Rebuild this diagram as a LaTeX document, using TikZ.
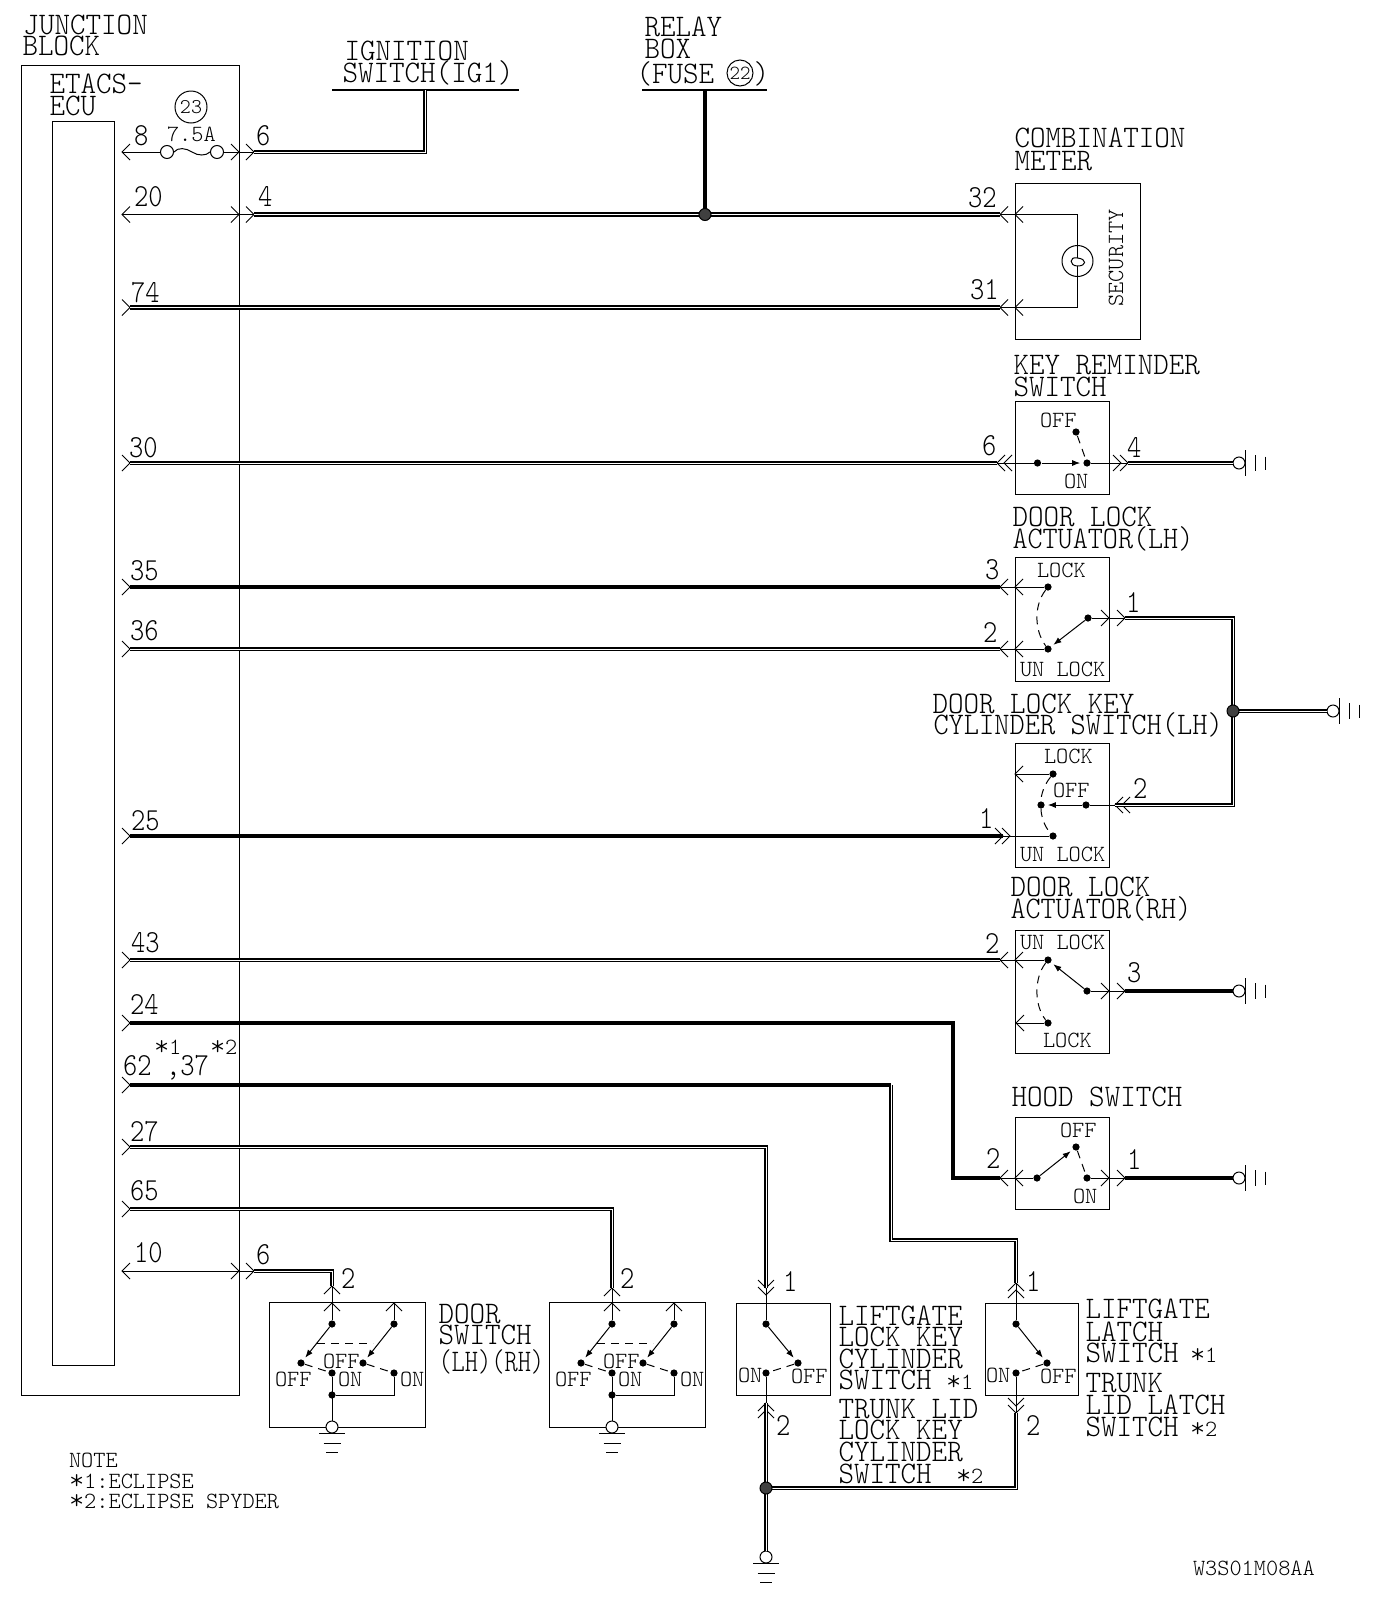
\documentclass[tikz,border=0pt]{standalone}
\usepackage{graphicx}
\usetikzlibrary{fit,arrows.meta}
\newcommand\tfont{\fontfamily{lmtt}\fontseries{l}\fontshape{n}}
\newcommand\lb[5][1]{\node[txt,xshift=-0.75pt] (#2) at (#3,#4) {\tfont\fontsize{14.8}{15}\selectfont\scalebox{#1}[1.06]{#5}};}
\newcommand\nm[4]{\node[txt] (#1) at (#2,#3) {\tfont\fontsize{13.6}{15}\selectfont\scalebox{1}[1.18]{#4}};}
\newcommand\sm[4]{\node[txt] (#1) at (#2,#3) {\tfont\fontsize{11.6}{13}\selectfont #4};}
\newcommand\stt{\raisebox{-0.06em}{\scalebox{1.25}{*}}}
\newcommand\chev[4]{\coordinate (#1) at (#2,#3); \draw[fine,shift={(#2,#3)},rotate=#4] (-8,-8) -- (0,0) -- (-8,8);}
\newcommand\sd[3]{\node[swdot] (#1) at (#2,#3) {};}
\newcommand\bx[5]{\node[swbox,fit={(#2,#3)(#4,#5)}] (#1) {};}
\newcommand\gndR[3]{\node[gcirc] (#1) at (#2,#3) {};
  \draw[fine] ([shift={(6,-13)}]#1.center) -- ([shift={(6,13)}]#1.center);
  \draw[fine] ([shift={(16,-8)}]#1.center) -- ([shift={(16,8)}]#1.center);
  \draw[fine] ([shift={(26,-6.5)}]#1.center) -- ([shift={(26,6.5)}]#1.center);}
\newcommand\gndD[3]{\node[gcirc] (#1) at (#2,#3) {};
  \draw[fine] ([shift={(-13,6)}]#1.center) -- ([shift={(13,6)}]#1.center);
  \draw[fine] ([shift={(-8.5,16)}]#1.center) -- ([shift={(8.5,16)}]#1.center);
  \draw[fine] ([shift={(-6,25)}]#1.center) -- ([shift={(6,25)}]#1.center);}
\tikzset{
  fine/.style={line width=0.5pt},
  hbar/.style={line width=1pt},
  wsolid/.style={line width=2pt,line join=miter},
  wdbl/.style={line width=1pt,double=white,double distance=0.45pt,line join=miter},
  dashsw/.style={line width=0.5pt,dash pattern=on 4pt off 3pt},
  swdot/.style={circle,fill=black,inner sep=0pt,minimum size=3.6pt},
  swbox/.style={draw,line width=0.5pt,inner sep=0pt,outer sep=0pt},
  gcirc/.style={circle,draw,fill=white,line width=0.5pt,inner sep=0pt,minimum size=6pt},
  jct/.style={circle,draw,fill=black!75,line width=0.5pt,inner sep=0pt,minimum size=6pt},
  txt/.style={anchor=base west,inner sep=0pt,outer sep=0pt},
  ptr/.style={line width=0.5pt,-{Latex[length=4pt,width=3pt]},shorten >=1.4pt},
}
\begin{document}
\begin{tikzpicture}[x=0.5pt,y=-0.5pt]
\useasboundingbox (0,0) rectangle (1392,1612);
\fill[white] (0,0) rectangle (1392,1612);
% junction block and ECU
\bx{jb}{21}{65.5}{239}{1395}
\bx{ecu}{52}{121}{114}{1365}
% supply bars
\coordinate (ignb) at (425,90);
\coordinate (relb) at (705,90);
\draw[hbar] (332,90) coordinate (ign1) -- (519,90) coordinate (ign2);
\draw[hbar] (642,90) coordinate (rel1) -- (767,90) coordinate (rel2);
% fuse line
\chev{t8}{122}{152}{180}
\chev{t8m}{239}{152}{0}
\chev{t6a}{254}{152}{0}
\node[gcirc,minimum size=6.5pt] (f1) at (167,152) {};
\node[gcirc,minimum size=6.5pt] (f2) at (217,152) {};
\draw[fine] (t8) -- (f1.west);
\draw[fine] (f1.east) .. controls (178,147) and (186,148) .. (192,152) .. controls (198,156) and (206,156) .. (f2.west);
\draw[fine] (f2.east) -- (t6a);
\draw[wdbl] (t6a) -| (ignb);
\node[circle,draw,line width=0.5pt,minimum size=16pt,inner sep=0pt,font=\tfont\fontsize{10.5}{12}\selectfont] (c23) at (191,107) {23};
% line 20 / 4 / 32
\chev{t20}{122}{214.5}{180}
\chev{t20m}{239}{214.5}{0}
\chev{t4}{254}{214.5}{0}
\draw[fine] (t20) -- (t4);
\chev{t32}{1000}{214.5}{180}
\chev{t32b}{1015}{214.5}{180}
\coordinate (j1c) at (705,214.5);
\draw[wdbl] (t4) -- (t32);
\draw[wsolid] (relb) -- (j1c);
\node[jct] (j1) at (j1c) {};
% combination meter
\bx{cm}{1015}{183}{1140.5}{339}
\coordinate (fil1) at (1077.5,258);
\coordinate (fil2) at (1077.5,266);
\chev{t74}{130}{307.5}{0}
\chev{t31}{1000}{307.5}{180}
\chev{t31b}{1015}{307.5}{180}
\draw[wdbl] (t74) -- (t31);
\draw[fine] (t32) -| (fil1);
\draw[fine] (t31) -| (fil2);
\node[circle,draw,line width=0.5pt,minimum size=15.5pt,inner sep=0pt] (lamp) at (1077.5,261) {};
\draw[fine] (fil1) .. controls (1069,256) and (1069,266) .. (fil2) .. controls (1087,266) and (1087,259) .. (fil1);
\node[anchor=base west,inner sep=0pt,rotate=90] (sec) at (1123,307) {\tfont\fontsize{11.6}{13}\selectfont SECURITY};
% key reminder switch
\bx{kr}{1015}{401.6}{1109}{494}
\chev{t30}{130}{463}{0}
\chev{k6a}{997}{463}{180}
\chev{k6b}{1004}{463}{180}
\draw[wdbl] (t30) -- (k6a);
\sd{kr1}{1037.5}{463}
\sd{kr2}{1087}{463}
\sd{kr3}{1076}{432}
\draw[fine] (k6a) -- (kr1);
\draw[ptr] (kr1) -- (kr2);
\draw[dashsw] (kr3) -- (kr2);
\chev{k4a}{1121}{463}{0}
\chev{k4b}{1128}{463}{0}
\draw[fine] (kr2) -- (k4b);
\gndR{g1}{1239}{463}
\draw[wdbl] (k4b) -- (g1.west);
% door lock actuator LH
\bx{dl}{1015}{557}{1109}{681}
\chev{t35}{130}{587}{0}
\chev{d3a}{1000}{587}{180}
\chev{d3b}{1015}{587}{180}
\draw[wsolid] (t35) -- (d3a);
\chev{t36}{130}{649}{0}
\chev{d2a}{1000}{649}{180}
\chev{d2b}{1015}{649}{180}
\draw[wdbl] (t36) -- (d2a);
\sd{dl1}{1048}{587}
\sd{dl2}{1048}{649}
\sd{dl3}{1088}{618}
\draw[fine] (d3a) -- (dl1);
\draw[fine] (d2a) -- (dl2);
\draw[ptr] (dl3) -- (dl2);
\draw[dashsw] (dl1) .. controls (1034,605) and (1034,630) .. (dl2);
\chev{d1a}{1109}{618}{0}
\chev{d1b}{1125}{618}{0}
\draw[fine] (dl3) -- (d1b);
% door lock key cylinder
\bx{kc}{1015}{743}{1109}{867}
\chev{kcl}{1015}{774}{180}
\sd{kc1}{1053}{774}
\sd{kc2}{1041}{805}
\sd{kc3}{1086}{805}
\sd{kc4}{1053}{836}
\draw[fine] (kcl) -- (kc1);
\draw[ptr] (kc3) -- (kc2);
\draw[dashsw] (kc1) .. controls (1044,785) and (1041,795) .. (kc2) .. controls (1041,815) and (1044,826) .. (kc4);
\chev{kc2a}{1115}{805}{180}
\chev{kc2b}{1122}{805}{180}
\draw[fine] (kc3) -- (kc2a);
\chev{t25}{130}{836}{0}
\chev{kc1a}{1003}{836}{0}
\chev{kc1b}{1010}{836}{0}
\draw[wsolid] (t25) -- (kc1a);
\draw[fine] (kc1a) -- (kc4);
% common earth
\coordinate (j2c) at (1233,711);
\coordinate (cn1) at (1233,618);
\draw[wdbl] (d1b) -| (j2c);
\draw[wdbl] (kc2a) -| (j2c);
\gndR{g2}{1333}{711}
\draw[wdbl] (j2c) -- (g2.west);
\node[jct] (j2) at (j2c) {};
% door lock actuator RH
\bx{dr}{1015}{930}{1109}{1053}
\chev{t43}{130}{960}{0}
\chev{r2a}{1000}{960}{180}
\chev{r2b}{1015}{960}{180}
\draw[wdbl] (t43) -- (r2a);
\sd{dr1}{1048}{960}
\sd{dr2}{1087}{991}
\sd{dr3}{1048}{1023}
\draw[fine] (r2a) -- (dr1);
\draw[ptr] (dr2) -- (dr1);
\draw[dashsw] (dr1) .. controls (1034,978) and (1034,1005) .. (dr3);
\chev{drl}{1016}{1023}{180}
\draw[fine] (drl) -- (dr3);
\chev{r3a}{1109}{991}{0}
\chev{r3b}{1125}{991}{0}
\draw[fine] (dr2) -- (r3b);
\gndR{g3}{1239}{991}
\draw[wsolid] (r3b) -- (g3.west);
% hood switch
\bx{hs}{1015}{1117}{1109}{1209}
\chev{t24}{130}{1023}{0}
\chev{h2a}{1000}{1178}{180}
\chev{h2b}{1015}{1178}{180}
\coordinate (hc) at (953,1023);
\draw[wsolid] (t24) -- (hc) |- (h2a);
\sd{hs1}{1037}{1178}
\sd{hs2}{1076}{1147}
\sd{hs3}{1087}{1178}
\draw[fine] (h2a) -- (hs1);
\draw[ptr] (hs1) -- (hs2);
\draw[dashsw] (hs2) -- (hs3);
\chev{h1a}{1109}{1178}{0}
\chev{h1b}{1125}{1178}{0}
\draw[fine] (hs3) -- (h1b);
\gndR{g4}{1239}{1178}
\draw[wsolid] (h1b) -- (g4.west);
% 62/37 -> latch switch
\bx{ls}{985}{1303}{1078}{1395}
\chev{t62}{130}{1085}{0}
\coordinate (c62) at (891,1085);
\coordinate (c62b) at (891,1240);
\chev{l1a}{1016}{1283}{90}
\chev{l1b}{1016}{1290}{90}
\draw[wsolid] (t62) -- (c62);
\draw[wdbl] (c62) -- (c62b) -| (l1a);
\sd{ls1}{1016}{1324}
\sd{ls2}{1047}{1363}
\sd{ls3}{1016}{1373}
\draw[fine] (l1a) -- (ls1);
\draw[ptr] (ls1) -- (ls2);
\draw[dashsw] (ls2) -- (ls3);
\chev{l2a}{1016}{1406}{-90}
\chev{l2b}{1016}{1413}{-90}
\draw[fine] (ls3) -- (l2b);
% 27 -> lock key cylinder
\bx{lk}{736}{1303}{830}{1395}
\chev{t27}{130}{1147}{0}
\chev{c1a}{766}{1288}{-90}
\chev{c1b}{766}{1295}{-90}
\draw[wdbl] (t27) -| (c1a);
\sd{lk1}{766}{1324}
\sd{lk2}{798}{1363}
\sd{lk3}{766}{1373}
\draw[fine] (c1a) -- (lk1);
\draw[ptr] (lk1) -- (lk2);
\draw[dashsw] (lk2) -- (lk3);
\chev{c2a}{766}{1403}{90}
\chev{c2b}{766}{1410}{90}
\draw[fine] (lk3) -- (c2a);
\coordinate (j3c) at (766,1488);
\gndD{g5}{766}{1557}
\draw[wdbl] (c2a) -- (g5.north);
\draw[wdbl] (j3c) -| (l2b);
\node[jct] (j3) at (j3c) {};
% door switches
\bx{ds1}{269}{1302}{425}{1427}
\bx{ds2}{549}{1302}{705}{1427}
\chev{t10}{122}{1271}{180}
\chev{t10m}{239}{1271}{0}
\chev{t6d}{254}{1271}{0}
\draw[fine] (t10) -- (t6d);
\chev{ds1t}{332}{1286}{90}
\chev{ds1u}{332}{1303}{90}
\draw[wdbl] (t6d) -| (ds1t);
\chev{t65}{130}{1209}{0}
\chev{ds2t}{612}{1288}{90}
\chev{ds2u}{612}{1303}{90}
\draw[wdbl] (t65) -| (ds2t);
\sd{a1}{332}{1324}
\sd{a2}{394}{1324}
\sd{a3}{301}{1363}
\sd{a4}{363}{1363}
\sd{a5}{332}{1373}
\sd{a6}{394}{1373}
\sd{a7}{332}{1395}
\chev{ds1v}{394}{1303}{90}
\draw[fine] (ds1t) -- (a1);
\draw[fine] (ds1v) -- (a2);
\draw[ptr] (a1) -- (a3);
\draw[ptr] (a2) -- (a4);
\draw[dashsw] (317,1343) coordinate (a8) -- (373,1343) coordinate (a9);
\draw[dashsw] (a3) -- (a5);
\draw[dashsw] (a4) -- (a6);
\gndD{g6}{332}{1427}
\draw[fine] (a5) -- (g6.north);
\draw[fine] (a7) -| (a6);
\sd{b1}{612}{1324}
\sd{b2}{674}{1324}
\sd{b3}{581}{1363}
\sd{b4}{643}{1363}
\sd{b5}{612}{1373}
\sd{b6}{674}{1373}
\sd{b7}{612}{1395}
\chev{ds2v}{674}{1303}{90}
\draw[fine] (ds2t) -- (b1);
\draw[fine] (ds2v) -- (b2);
\draw[ptr] (b1) -- (b3);
\draw[ptr] (b2) -- (b4);
\draw[dashsw] (597,1343) coordinate (b8) -- (653,1343) coordinate (b9);
\draw[dashsw] (b3) -- (b5);
\draw[dashsw] (b4) -- (b6);
\gndD{g7}{612}{1427}
\draw[fine] (b5) -- (g7.north);
\draw[fine] (b7) -| (b6);
% big labels
\lb{tJ}{25}{34}{JUNCTION}
\lb{tB}{24}{55}{BLOCK}
\lb{tE}{51}{93}{ETACS-}
\lb{tEc}{51}{115}{ECU}
\lb{tI}{346}{60}{IGNITION}
\lb{tIs}{344}{82}{SWITCH(IG1)}
\lb{tR}{646}{36}{RELAY}
\lb{tRb}{646}{58}{BOX}
\lb{tRf}{638}{83}{(FUSE}
\lb{tRp}{755}{83}{)}
\node[circle,draw,line width=0.5pt,minimum size=13pt,inner sep=0pt,font=\tfont\fontsize{10}{12}\selectfont] (c22) at (740,73) {22};
\lb{tC}{1016}{147}{COMBINATION}
\lb{tCm}{1016}{170}{METER}
\lb{tK}{1015}{374}{KEY REMINDER}
\lb{tKs}{1015}{396}{SWITCH}
\lb{tD1}{1014}{526}{DOOR LOCK}
\lb[0.97]{tD2}{1014}{548}{ACTUATOR(LH)}
\lb{tDk1}{934}{713}{DOOR LOCK KEY}
\lb[0.98]{tDk2}{935}{734}{CYLINDER SWITCH(LH)}
\lb{tDr1}{1012}{896}{DOOR LOCK}
\lb[0.97]{tDr2}{1012}{918}{ACTUATOR(RH)}
\lb{tH}{1013}{1106}{HOOD SWITCH}
\lb{tS1}{440}{1323}{DOOR}
\lb{tS2}{440}{1344}{SWITCH}
\lb[0.85]{tS3}{440}{1371}{(LH)(RH)}
\lb{tL1}{840}{1325}{LIFTGATE}
\lb{tL2}{840}{1346}{LOCK KEY}
\lb{tL3}{840}{1368}{CYLINDER}
\lb{tL4}{840}{1389}{SWITCH}
\lb{tL5}{840}{1418}{TRUNK LID}
\lb{tL6}{840}{1439}{LOCK KEY}
\lb{tL7}{840}{1461}{CYLINDER}
\lb{tL8}{840}{1483}{SWITCH}
\sm{tLa}{946}{1389}{\stt1}
\sm{tLb}{956}{1483}{\stt2}
\lb{tM1}{1087}{1318}{LIFTGATE}
\lb{tM2}{1087}{1341}{LATCH}
\lb{tM3}{1087}{1362}{SWITCH}
\lb{tM4}{1087}{1392}{TRUNK}
\lb{tM5}{1087}{1414}{LID LATCH}
\lb{tM6}{1087}{1436}{SWITCH}
\sm{tMa}{1190}{1362}{\stt1}
\sm{tMb}{1190}{1436}{\stt2}
% pin numbers
\nm{n8}{134}{145}{8}
\nm{n6a}{256}{145}{6}
\nm{n20}{134}{206}{20}
\nm{n4}{258}{206}{4}
\nm{n74}{131}{302}{74}
\nm{n32}{968}{207}{32}
\nm{n31}{970}{299}{31}
\nm{n30}{129}{457}{30}
\nm{n6k}{982}{455}{6}
\nm{n4k}{1127}{457}{4}
\nm{n35}{130}{580}{35}
\nm{n36}{130}{640}{36}
\nm{n3d}{985}{579}{3}
\nm{n2d}{983}{642}{2}
\nm{n1d}{1126}{612}{1}
\nm{n25}{131}{830}{25}
\nm{n1k}{979}{828}{1}
\nm{n2k}{1133}{798}{2}
\nm{n43}{131}{952}{43}
\nm{n2r}{985}{953}{2}
\nm{n3r}{1127}{982}{3}
\nm{n24}{130}{1014}{24}
\nm{n2h}{986}{1168}{2}
\nm{n1h}{1127}{1169}{1}
\nm{n62}{123}{1075}{62}
\nm{n37}{166}{1075}{,37}
\sm{n62a}{154}{1054}{\stt1}
\sm{n37a}{210}{1054}{\stt2}
\nm{n27}{130}{1141}{27}
\nm{n65}{130}{1200}{65}
\nm{n10}{134}{1262}{10}
\nm{n6d}{256}{1264}{6}
\nm{n2a}{341}{1288}{2}
\nm{n2b}{620}{1288}{2}
\nm{n1c}{783}{1291}{1}
\nm{n2c}{776}{1435}{2}
\nm{n1l}{1026}{1291}{1}
\nm{n2l}{1026}{1435}{2}
% small labels
\sm{s75}{167}{141}{7.5A}
\sm{skoff}{1040}{427}{OFF}
\sm{skon}{1064}{488}{ON}
\sm{sdlock}{1037}{577}{LOCK}
\sm{sdun}{1020}{676}{UN LOCK}
\sm{sklock}{1044}{763}{LOCK}
\sm{skcoff}{1053}{797}{OFF}
\sm{skun}{1020}{861}{UN LOCK}
\sm{srun}{1020}{949}{UN LOCK}
\sm{srlock}{1043}{1047}{LOCK}
\sm{shoff}{1060}{1137}{OFF}
\sm{shon}{1073}{1203}{ON}
\sm{sa1}{275}{1386}{OFF}
\sm{sa2}{323}{1368}{OFF}
\sm{sa3}{338}{1386}{ON}
\sm{sa4}{400}{1386}{ON}
\sm{sb1}{555}{1386}{OFF}
\sm{sb2}{603}{1368}{OFF}
\sm{sb3}{618}{1386}{ON}
\sm{sb4}{680}{1386}{ON}
\sm{sc1}{738}{1382}{ON}
\sm{sc2}{791}{1383}{OFF}
\sm{sc3}{986}{1382}{ON}
\sm{sc4}{1040}{1383}{OFF}
\sm{note}{69}{1467}{NOTE}
\sm{note1}{69}{1488}{\stt1:ECLIPSE}
\sm{note2}{69}{1508}{\stt2:ECLIPSE SPYDER}
\sm{code}{1193}{1575}{W3S01M08AA}
\end{tikzpicture}
\end{document}
